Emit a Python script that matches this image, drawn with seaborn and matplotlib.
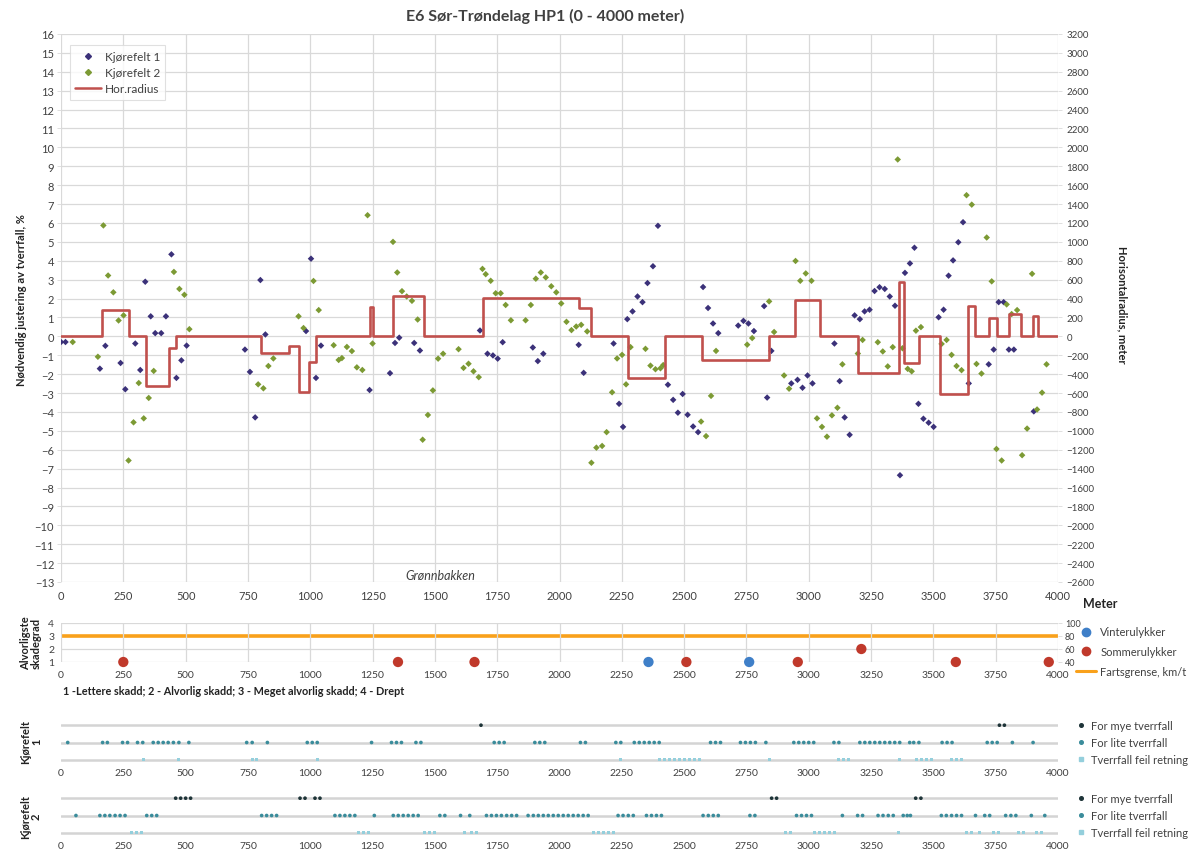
import matplotlib
matplotlib.use("Agg")
import matplotlib.pyplot as plt
import seaborn as sns
import numpy as np
import pandas as pd
from matplotlib.lines import Line2D

# ---------------- data ----------------
k1_x = [0, 18, 156, 178, 239, 258, 298, 318, 338, 360, 378, 402, 421, 443, 463, 483, 504,
        738, 758, 779, 800, 820, 983, 1003, 1023, 1043, 1238, 1320, 1340, 1357, 1417, 1440,
        1681, 1711, 1733, 1752, 1772, 1893, 1913, 1935, 2077, 2097, 2217, 2239, 2255, 2272,
        2293, 2313, 2333, 2353, 2375, 2395, 2435, 2456, 2475, 2494, 2514, 2536, 2556, 2576,
        2596, 2616, 2637, 2717, 2738, 2758, 2780, 2821, 2833, 2850, 2930, 2955, 2975, 2995,
        3015, 3103, 3124, 3144, 3164, 3184, 3205, 3224, 3244, 3264, 3284, 3305, 3325, 3346,
        3366, 3386, 3406, 3424, 3440, 3460, 3481, 3501, 3521, 3541, 3561, 3579, 3600, 3619,
        3642, 3722, 3742, 3762, 3782, 3803, 3823, 3903]
k1_y = [-0.3, -0.3, -1.71, -0.5, -1.41, -2.8, -0.38, -1.78, 2.89, 1.06, 0.17, 0.17, 1.06, 4.34,
        -2.2, -1.27, -0.49, -0.7, -1.88, -4.29, 2.98, 0.1, 0.28, 4.11, -2.2, -0.49, -2.84,
        -1.95, -0.35, -0.07, -0.35, -0.75, 0.31, -0.92, -1.01, -1.18, -0.31, -0.59, -1.31,
        -0.92, -0.45, -1.93, -0.38, -3.57, -4.79, 0.91, 1.32, 2.11, 1.81, 2.82, 3.71, 5.85,
        -2.56, -3.36, -4.04, -3.05, -4.15, -4.77, -5.07, 2.61, 1.5, 0.68, 0.17, 0.57, 0.82,
        0.68, 0.28, 1.6, -3.24, -0.77, -2.49, -2.3, -2.72, -2.07, -2.49, -0.38, -2.37, -4.29,
        -5.21, 1.11, 0.91, 1.32, 1.41, 2.4, 2.6, 2.51, 2.11, 1.62, -7.35, 3.36, 3.86, 4.69,
        -3.57, -4.36, -4.57, -4.79, 1.01, 1.41, 3.21, 4.02, 4.98, 6.04, -2.49, -1.48, -0.7,
        1.81, 1.81, -0.7, -0.7, -3.97]

k2_x = [47, 148, 170, 189, 210, 231, 251, 271, 291, 312, 332, 352, 372, 453, 475, 495, 515,
        791, 812, 832, 852, 953, 973, 1013, 1034, 1094, 1114, 1127, 1147, 1167, 1187, 1209,
        1230, 1250, 1332, 1349, 1368, 1387, 1408, 1431, 1451, 1472, 1492, 1513, 1533, 1595,
        1615, 1635, 1655, 1676, 1691, 1704, 1724, 1744, 1764, 1784, 1805, 1864, 1885, 1905,
        1925, 1945, 1967, 1987, 2007, 2028, 2048, 2067, 2087, 2111, 2128, 2148, 2171, 2189,
        2211, 2231, 2251, 2267, 2285, 2345, 2365, 2385, 2405, 2416, 2568, 2588, 2608, 2628,
        2753, 2773, 2841, 2861, 2901, 2921, 2947, 2966, 2988, 3011, 3033, 3053, 3073, 3093,
        3115, 3135, 3197, 3216, 3277, 3297, 3317, 3337, 3357, 3376, 3397, 3413, 3430, 3450,
        3533, 3553, 3573, 3593, 3613, 3633, 3654, 3673, 3693, 3714, 3734, 3753, 3774, 3794,
        3814, 3836, 3856, 3876, 3896, 3916, 3936, 3954]
k2_y = [-0.3, -1.08, 5.87, 3.22, 2.33, 0.84, 1.11, -6.57, -4.55, -2.47, -4.34, -3.26, -1.83,
        3.41, 2.51, 2.2, 0.38, -2.54, -2.75, -1.57, -1.17, 1.06, 0.44, 2.93, 1.39, -0.47,
        -1.25, -1.15, -0.56, -0.78, -1.64, -1.78, 6.41, -0.38, 5.0, 3.38, 2.39, 2.11, 1.88,
        0.89, -5.47, -4.16, -2.86, -1.18, -0.92, -0.68, -1.67, -1.45, -1.85, -2.16, 3.57,
        3.29, 2.94, 2.28, 2.28, 1.66, 0.85, 0.85, 1.66, 3.05, 3.38, 3.12, 2.65, 2.33, 1.74,
        0.77, 0.33, 0.52, 0.61, 0.26, -6.69, -5.89, -5.8, -5.07, -2.96, -1.17, -0.98, -2.54,
        -0.57, -0.66, -1.55, -1.74, -1.69, -1.52, -4.51, -5.28, -3.15, -0.77, -0.44, -0.09,
        1.85, 0.23, -2.07, -2.77, 3.99, 2.94, 3.33, 2.94, -4.34, -4.79, -5.31, -4.18, -3.78,
        -1.48, -0.91, -0.19, -0.31, -0.8, -1.59, -0.57, 9.36, -0.63, -1.72, -1.85, 0.3, 0.49,
        -0.4, -0.19, -0.98, -1.57, -1.79, 7.47, 6.97, -1.46, -1.97, 5.23, 2.91, -5.96, -6.57,
        1.69, 1.18, 1.39, -6.29, -4.88, 3.31, -3.87, -2.98, -1.48]

rad_x = [0, 163, 274, 340, 435, 460, 802, 913, 956, 995, 1025, 1239, 1250, 1332, 1457, 1695,
         2080, 2127, 2275, 2424, 2571, 2840, 2944, 3047, 3197, 3364, 3384, 3442, 3527, 3637,
         3669, 3723, 3755, 3802, 3850, 3899, 3920, 4000]
rad_v = [0, 280, 0, -530, -122, 0, -174, -100, -592, -272, 0, 310, 0, 428, 0, 408,
         303, 0, -439, 0, -251, 0, 380, 0, -390, 578, -282, 0, -613, 320,
         0, 198, 0, 233, 0, 212, 0, 0]

sommer_x = [250, 1352, 1659, 2509, 2956, 3211, 3590, 3963]
sommer_sev = [1, 1, 1, 1, 1, 2, 1, 1]
vinter_x = [2357, 2761]
vinter_sev = [1, 1]
speed_x = [0, 4000]
speed_v = [80, 80]

k1_mye = [1685, 3765, 3785]
k1_lite = [27, 167, 186, 247, 267, 307, 328, 370, 390, 410, 430, 451, 473, 513, 745, 767, 828,
           988, 1008, 1028, 1246, 1326, 1346, 1366, 1424, 1444, 1738, 1758, 1778, 1901, 1921,
           1941, 2084, 2104, 2226, 2246, 2300, 2320, 2340, 2360, 2380, 2400, 2606, 2626, 2646,
           2726, 2746, 2766, 2786, 2828, 2940, 2960, 2980, 3000, 3020, 3101, 3121, 3205, 3225,
           3245, 3265, 3285, 3305, 3325, 3345, 3365, 3405, 3421, 3442, 3535, 3555, 3575, 3716,
           3736, 3756, 3817, 3900]
k1_feil = [330, 473, 767, 785, 1028, 2246, 2400, 2420, 2440, 2460, 2480, 2500, 2520, 2540,
           2560, 2844, 3118, 3138, 3158, 3365, 3432, 3452, 3472, 3492, 3573, 3593, 3613]

k2_mye = [460, 480, 500, 520, 959, 979, 1019, 1039, 2851, 2871, 3429, 3450]
k2_lite = [60, 156, 176, 196, 217, 237, 257, 344, 364, 384, 805, 825, 845, 865, 1099, 1119,
           1139, 1159, 1179, 1257, 1333, 1353, 1373, 1393, 1413, 1433, 1520, 1540, 1603, 1640,
           1707, 1727, 1747, 1767, 1788, 1808, 1828, 1874, 1895, 1915, 1935, 1955, 1975, 1995,
           2015, 2035, 2055, 2075, 2095, 2115, 2235, 2255, 2276, 2296, 2349, 2369, 2389, 2409,
           2576, 2597, 2617, 2637, 2764, 2784, 2951, 2971, 2991, 3011, 3135, 3196, 3216, 3278,
           3298, 3319, 3339, 3379, 3395, 3408, 3532, 3552, 3573, 3593, 3613, 3669, 3706, 3726,
           3790, 3811, 3831, 3893, 3947]
k2_feil = [283, 303, 324, 1193, 1213, 1233, 1460, 1480, 1500, 1620, 1647, 1667, 2135, 2155,
           2175, 2195, 2215, 2908, 2928, 3024, 3044, 3064, 3085, 3105, 3359, 3633, 3653, 3686,
           3740, 3760, 3840, 3860, 3913, 3933]

x_ticks = list(range(0, 4001, 250))
left_ticks = list(range(-13, 17))
right_ticks = list(range(-2600, 3201, 200))

# ---------------- style ----------------
sns.set_theme(style="white")
plt.rcParams["font.family"] = ["Lato", "DejaVu Sans"]

C_K1 = "#3b3179"
C_K2 = "#7c9a34"
C_RED = "#c0504d"
C_GRID = "#d9d9d9"
C_TXT = "#404040"
C_SOM = "#c0392b"
C_VIN = "#3f7fc8"
C_ORG = "#f9a11b"

W, H = 1200, 854
fig = plt.figure(figsize=(12, 8.54), dpi=100)


def rect(l, t, r, b):
    return [l / W, 1 - b / H, (r - l) / W, (b - t) / H]


def clean(ax):
    for s in ax.spines.values():
        s.set_visible(False)


# ---------------- main chart ----------------
ax = fig.add_axes(rect(61, 35, 1058, 583))
ax2 = ax.twinx()
sns.scatterplot(x=k1_x, y=k1_y, ax=ax, marker="D", s=11, color=C_K1, edgecolor="none",
                zorder=3, legend=False)
sns.scatterplot(x=k2_x, y=k2_y, ax=ax, marker="D", s=11, color=C_K2, edgecolor="none",
                zorder=3, legend=False)
sns.lineplot(x=rad_x, y=rad_v, ax=ax2, drawstyle="steps-post", color=C_RED, lw=1.9,
             estimator=None, sort=False, legend=False)
ax.set_xlim(0, 4000)
ax.set_ylim(-13, 16)
ax2.set_ylim(-2600, 3200)
ax.set_xticks(x_ticks)
ax.set_yticks(left_ticks)
ax2.set_yticks(right_ticks)
ax.grid(True, color=C_GRID, lw=0.9)
ax.set_axisbelow(True)
clean(ax)
clean(ax2)
ax.tick_params(axis="both", labelsize=8, colors=C_TXT, length=3, width=0.6, pad=2)
ax.tick_params(axis="y", color=C_GRID)
ax.tick_params(axis="x", length=0, pad=6)
ax2.tick_params(axis="y", labelsize=7, colors=C_TXT, length=3, width=0.6, pad=3, color=C_GRID)
ax.set_xlabel("")
ax.set_ylabel("")
ax2.set_ylabel("")
ax.text(1520, -12.62, "Grønnbakken", style="italic", fontsize=9, color=C_TXT,
        ha="center", va="center")

handles = [Line2D([], [], marker="D", ls="none", color=C_K1, markersize=3),
           Line2D([], [], marker="D", ls="none", color=C_K2, markersize=3),
           Line2D([], [], color=C_RED, lw=1.8)]
leg = ax2.legend(handles, ["Kjørefelt 1", "Kjørefelt 2", "Hor.radius"], loc="upper left",
                 bbox_to_anchor=(0.003, 0.99), fontsize=8.5, frameon=True, fancybox=False,
                 edgecolor=C_GRID, labelspacing=0.45, handlelength=2.2, borderpad=0.45,
                 handletextpad=0.3)
leg.get_frame().set_linewidth(0.8)
for t in leg.get_texts():
    t.set_color(C_TXT)

fig.text(545 / W, 1 - 16 / H, "E6 Sør-Trøndelag HP1 (0 - 4000 meter)", ha="center",
         va="center", fontsize=11.5, fontweight="bold", color=C_TXT)
fig.text(22 / W, 1 - 300 / H, "Nødvendig justering av tverrfall, %", rotation=90,
         ha="center", va="center", fontsize=8, fontweight="bold", color="#222222")
fig.text(1122 / W, 1 - 305 / H, "Horisontalradius, meter", rotation=270,
         ha="center", va="center", fontsize=8, fontweight="bold", color="#222222")
fig.text(1100 / W, 1 - 604 / H, "Meter", ha="center", va="center", fontsize=9,
         fontweight="bold", color="#222222")

# ---------------- accident panel ----------------
axa = fig.add_axes(rect(61, 624, 1058, 663))
axa2 = axa.twinx()
sns.lineplot(x=speed_x, y=speed_v, ax=axa2, color=C_ORG, lw=2.6, estimator=None,
             legend=False, zorder=3)
sns.scatterplot(x=vinter_x, y=vinter_sev, ax=axa, s=55, color=C_VIN, edgecolor="none",
                zorder=4, clip_on=False, legend=False)
sns.scatterplot(x=sommer_x, y=sommer_sev, ax=axa, s=55, color=C_SOM, edgecolor="none",
                zorder=4, clip_on=False, legend=False)
axa.set_zorder(axa2.get_zorder() + 1)
axa.patch.set_visible(False)
axa.set_xlim(0, 4000)
axa.set_ylim(1, 4)
axa2.set_ylim(40, 100)
axa.set_xticks(x_ticks)
axa.set_yticks([1, 2, 3, 4])
axa2.set_yticks([40, 60, 80, 100])
axa.grid(True, axis="x", color=C_GRID, lw=0.9)
axa2.grid(True, axis="y", color=C_GRID, lw=0.9)
axa2.set_axisbelow(True)
clean(axa)
clean(axa2)
axa.tick_params(axis="x", labelsize=7.5, colors=C_TXT, length=0, pad=6)
axa.tick_params(axis="y", labelsize=7.5, colors=C_TXT, length=0, pad=5)
axa2.tick_params(axis="y", labelsize=6.5, colors=C_TXT, length=3, width=0.6, color=C_GRID,
                 pad=2)
axa.set_xlabel("")
axa.set_ylabel("")
axa2.set_ylabel("")
acc_handles = [Line2D([], [], marker="o", ls="none", color=C_VIN, markersize=6),
               Line2D([], [], marker="o", ls="none", color=C_SOM, markersize=6),
               Line2D([], [], color=C_ORG, lw=2.2)]
lega = axa.legend(acc_handles, ["Vinterulykker", "Sommerulykker", "Fartsgrense, km/t"],
                  loc="center left", bbox_to_anchor=(1.018, 0.26), frameon=False,
                  fontsize=8, labelspacing=0.8, handlelength=1.8, handletextpad=0.4,
                  borderaxespad=0, borderpad=0)
for t in lega.get_texts():
    t.set_color(C_TXT)
fig.text(31 / W, 1 - 643 / H, "Alvorligste\nskadegrad", rotation=90, ha="center",
         va="center", fontsize=8, fontweight="bold", color="#222222", linespacing=1.0)
fig.text(63 / W, 1 - 692 / H,
         "1 -Lettere skadd; 2 - Alvorlig skadd; 3 - Meget alvorlig skadd; 4 - Drept",
         ha="left", va="center", fontsize=7.8, fontweight="bold", color="#222222")

# ---------------- lane panels ----------------
def lane_panel(rect_px, mye, lite, feil, label, label_y):
    axk = fig.add_axes(rect(*rect_px))
    sns.scatterplot(x=mye, y=[3] * len(mye), ax=axk, s=7, color="#1e3438",
                    edgecolor="none", zorder=3, legend=False)
    sns.scatterplot(x=lite, y=[2] * len(lite), ax=axk, s=7, color="#3a8c9b",
                    edgecolor="none", zorder=3, legend=False)
    sns.scatterplot(x=feil, y=[1] * len(feil), ax=axk, s=5, marker="s", color="#94cfdc",
                    edgecolor="none", zorder=3, legend=False)
    axk.set_xlim(0, 4000)
    axk.set_ylim(0.7, 3.3)
    axk.set_xticks(x_ticks)
    axk.set_yticks([1, 2, 3])
    axk.set_yticklabels([])
    axk.grid(True, axis="y", color="#d4d4d4", lw=1.8)
    axk.set_axisbelow(True)
    clean(axk)
    axk.tick_params(axis="x", labelsize=7.5, colors=C_TXT, length=0, pad=2)
    axk.tick_params(axis="y", length=0)
    axk.set_xlabel("")
    axk.set_ylabel("")
    hh = [Line2D([], [], marker="o", ls="none", color="#1e3438", markersize=2.6),
          Line2D([], [], marker="o", ls="none", color="#3a8c9b", markersize=2.6),
          Line2D([], [], marker="s", ls="none", color="#94cfdc", markersize=2.2)]
    lg = axk.legend(hh, ["For mye tverrfall", "For lite tverrfall", "Tverrfall feil retning"],
                    loc="center left", bbox_to_anchor=(1.02, 0.5), frameon=False, fontsize=8,
                    labelspacing=0.52, handlelength=0.6, handletextpad=0.6, borderaxespad=0,
                    borderpad=0)
    for t in lg.get_texts():
        t.set_color(C_TXT)
    fig.text(31 / W, 1 - label_y / H, label, rotation=90, ha="center", va="center",
             fontsize=8, fontweight="bold", color="#222222", linespacing=1.0)
    return axk


lane_panel((61, 721, 1058, 766), k1_mye, k1_lite, k1_feil, "Kjørefelt\n1", 742)
lane_panel((61, 794, 1058, 839), k2_mye, k2_lite, k2_feil, "Kjørefelt\n2", 817)

fig.savefig("out.png", dpi=100)
